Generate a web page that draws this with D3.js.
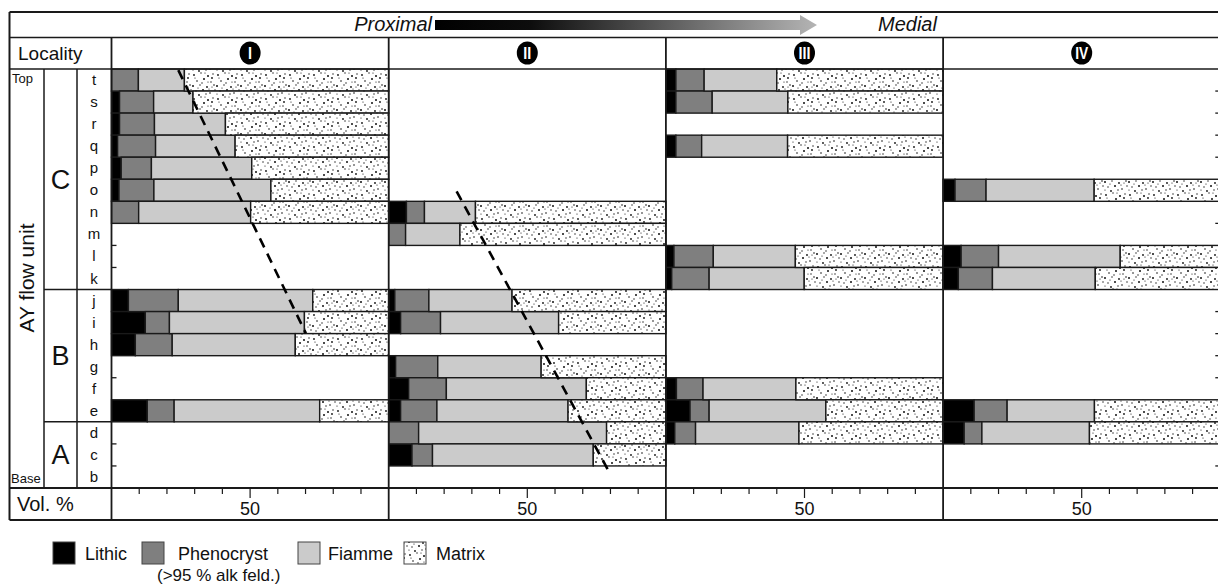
<!DOCTYPE html>
<html>
<head>
<meta charset="utf-8">
<script src="https://cdn.jsdelivr.net/npm/d3@7"></script>
<style>
  html, body { margin: 0; padding: 0; background: #fff; }
  svg { display: block; font-family: "Liberation Sans", Arial, Helvetica, sans-serif; }
</style>
</head>
<body>
<svg id="chart" width="1218" height="585"></svg>
<script>
// Sample rows of the AY flow unit, top to base
const rowLabels = ["t","s","r","q","p","o","n","m","l","k","j","i","h","g","f","e","d","c","b"];
const units = [
  { name: "C", from: "t", to: "k" },
  { name: "B", from: "j", to: "e" },
  { name: "A", from: "d", to: "b" }
];
const localities = ["I", "II", "III", "IV"];
const components = ["Lithic", "Phenocryst", "Fiamme", "Matrix"];
const volTicks = [10, 20, 30, 40, 50, 60, 70, 80, 90];
const volLabels = [50];

// Vol. % per row (null = no sample at that level); matrix is the remainder to 100 %
const lithicI    = [0, 2.9, 2.9, 2.2, 3.5, 2.7, 0, null, null, null, 6.1, 12.2, 8.6, null, null, 12.9, null, null, null];
const phenoI     = [9.7, 12.3, 12.6, 13.7, 10.9, 12.6, 9.8, null, null, null, 18.0, 8.7, 13.3, null, null, 9.7, null, null, null];
const fiammeI    = [16.6, 14.2, 25.6, 28.7, 36.2, 42.2, 40.4, null, null, null, 48.5, 48.7, 44.4, null, null, 52.5, null, null, null];

const lithicII   = [null, null, null, null, null, null, 6.4, 0, null, null, 2.2, 4.3, null, 2.5, 7.2, 4.3, 0, 8.4, null];
const phenoII    = [null, null, null, null, null, null, 6.5, 6.1, null, null, 12.3, 14.4, null, 15.2, 13.6, 13.1, 10.8, 7.4, null];
const fiammeII   = [null, null, null, null, null, null, 18.4, 19.6, null, null, 30.0, 42.6, null, 37.3, 50.5, 47.3, 67.8, 58.0, null];

const lithicIII  = [3.6, 3.6, null, 3.6, null, null, null, null, 2.9, 2.1, null, null, null, null, 3.8, 8.7, 3.2, null, null];
const phenoIII   = [10.2, 13.1, null, 9.3, null, null, null, null, 14.2, 13.5, null, null, null, null, 9.6, 6.9, 7.5, null, null];
const fiammeIII  = [26.2, 27.3, null, 31.0, null, null, null, null, 29.6, 34.3, null, null, null, null, 33.5, 42.1, 37.3, null, null];

const lithicIV   = [null, null, null, null, null, 4.3, null, null, 6.5, 5.5, null, null, null, null, null, 11.2, 7.6, null, null];
const phenoIV    = [null, null, null, null, null, 11.2, null, null, 13.5, 12.3, null, null, null, null, null, 11.9, 6.4, null, null];
const fiammeIV   = [null, null, null, null, null, 39.0, null, null, 43.9, 37.1, null, null, null, null, null, 31.5, 38.8, null, null];

// Trend of the fiamme/matrix boundary: [vol %, row, position within row]
const trendI  = [[24.1, "t", 0.05], [70.1, "i", 0.98]];
const trendII = [[24.5, "o", 0.55], [79.0, "b", 0.15]];

const series = [
  { name: "I",   lithic: lithicI,   pheno: phenoI,   fiamme: fiammeI,   trend: trendI },
  { name: "II",  lithic: lithicII,  pheno: phenoII,  fiamme: fiammeII,  trend: trendII },
  { name: "III", lithic: lithicIII, pheno: phenoIII, fiamme: fiammeIII, trend: null },
  { name: "IV",  lithic: lithicIV,  pheno: phenoIV,  fiamme: fiammeIV,  trend: null }
];

// ---------- layout ----------
const W = 1218, H = 585;
const fr = { left: 9.5, top: 12, header: 37.5, loc: 69, data: 488, bottom: 520, right: 1222 };
const col = { ay: 44, unit: 77, label: 111.5 };
const panelW = 277.2;
const ink = "#1a1a1a";
const fills = { Lithic: "#000000", Phenocryst: "#7f7f7f", Fiamme: "#cbcbcb", Matrix: "url(#stipple)" };

const svg = d3.select("#chart");
const defs = svg.append("defs");

// stipple texture for the matrix
const dots = [[2,3,0.9],[9,1,0.7],[16,4,1.0],[21,2,0.7],[5,9,0.8],[12,7,1.0],[19,10,0.7],[1,14,1.0],
              [8,13,0.7],[15,15,0.9],[22,13,0.8],[4,19,0.7],[11,18,1.0],[18,21,0.8],[23,18,0.7],
              [7,23,0.9],[14,22,0.7],[20,6,0.9],[10,11,0.7],[3,6,0.6],[17,17,0.6],[13,1,0.6],
              [6,16,0.6],[20,15,0.6],[1,22,0.6],[16,10,0.6]];
const pat = defs.append("pattern").attr("id", "stipple").attr("patternUnits", "userSpaceOnUse")
  .attr("width", 24).attr("height", 24);
pat.append("rect").attr("width", 24).attr("height", 24).attr("fill", "#fff");
pat.selectAll("circle").data(dots).join("circle")
  .attr("cx", d => d[0]).attr("cy", d => d[1]).attr("r", d => d[2]).attr("fill", "#111");

const grad = defs.append("linearGradient").attr("id", "arrowGrad")
  .attr("x1", "0%").attr("x2", "100%").attr("y1", "0%").attr("y2", "0%");
grad.append("stop").attr("offset", "0%").attr("stop-color", "#000");
grad.append("stop").attr("offset", "25%").attr("stop-color", "#0d0d0d");
grad.append("stop").attr("offset", "100%").attr("stop-color", "#b4b4b4");

const y = d3.scaleBand().domain(rowLabels).range([fr.loc, fr.data]).paddingInner(0).paddingOuter(0);
const stack = d3.stack().keys(components);

// ---------- panels ----------
series.forEach((s, i) => {
  const left = col.label + i * panelW;
  const x = d3.scaleLinear().domain([0, 100]).range([left, left + panelW]);
  const g = svg.append("g").attr("class", "panel-" + s.name);

  const rows = rowLabels.map((r, j) => ({ row: r, Lithic: s.lithic[j], Phenocryst: s.pheno[j], Fiamme: s.fiamme[j] }))
    .filter(d => d.Lithic !== null)
    .map(d => Object.assign(d, { Matrix: 100 - d.Lithic - d.Phenocryst - d.Fiamme }));

  const layers = stack(rows);
  g.selectAll("g.layer").data(layers).join("g").attr("class", "layer")
    .attr("fill", d => fills[d.key])
    .selectAll("rect").data(d => d.filter(v => v[1] - v[0] > 0.05)).join("rect")
    .attr("x", d => x(d[0])).attr("width", d => x(d[1]) - x(d[0]))
    .attr("y", d => y(d.data.row)).attr("height", y.bandwidth())
    .attr("stroke", ink).attr("stroke-width", 1.4);

  // small ticks at row boundaries inside gaps (outer panels)
  const empty = rowLabels.map((r, j) => s.lithic[j] === null);
  const gapTicks = [];
  for (let j = 1; j < rowLabels.length; j++) if (empty[j - 1] && empty[j]) gapTicks.push(rowLabels[j]);
  if (i === 0 || i === series.length - 1) {
    const x0 = i === 0 ? left : left + panelW;
    const dx = i === 0 ? 5 : -5;
    g.selectAll("line.gap").data(gapTicks).join("line").attr("class", "gap")
      .attr("x1", x0).attr("x2", x0 + dx)
      .attr("y1", d => y(d)).attr("y2", d => y(d))
      .attr("stroke", ink).attr("stroke-width", 1.3);
  }

  if (s.trend) {
    const line = d3.line().x(d => x(d[0])).y(d => y(d[1]) + d[2] * y.bandwidth());
    g.append("path").attr("d", line(s.trend)).attr("fill", "none")
      .attr("stroke", "#000").attr("stroke-width", 2.6).attr("stroke-dasharray", "10,7");
  }

  // Vol. % axis
  const axis = g.append("g");
  axis.selectAll("line").data(volTicks).join("line")
    .attr("x1", d => x(d)).attr("x2", d => x(d))
    .attr("y1", fr.data).attr("y2", d => fr.data + (d === 50 ? 10 : 6))
    .attr("stroke", ink).attr("stroke-width", 1.2);
  axis.selectAll("text").data(volLabels).join("text")
    .attr("x", d => x(d)).attr("y", 515).attr("text-anchor", "middle")
    .attr("font-size", 18).attr("fill", "#111").text(d => d);

  // locality badge
  const cx = x(50), cy = 53;
  g.append("ellipse").attr("cx", cx).attr("cy", cy).attr("rx", 10.5).attr("ry", 11.5).attr("fill", "#000");
  const tw = { I: 4, II: 8, III: 12, IV: 13 }[s.name];
  g.append("text").attr("x", cx).attr("y", cy + 5.5).attr("text-anchor", "middle")
    .attr("font-family", "'Liberation Sans Narrow', 'Liberation Sans', Arial, sans-serif")
    .attr("font-weight", "bold").attr("font-size", 16).attr("fill", "#fff")
    .attr("textLength", tw).attr("lengthAdjust", "spacingAndGlyphs")
    .text(s.name);
});

// ---------- table frame ----------
const frame = svg.append("g").attr("stroke", ink).attr("fill", "none");
const hLines = [
  [fr.left, fr.right, fr.top, 2.2], [fr.left, fr.right, fr.header, 1.6], [fr.left, fr.right, fr.loc, 1.6],
  [fr.left, fr.right, fr.data, 1.8], [fr.left, fr.right, fr.bottom, 2]
];
frame.selectAll("line.h").data(hLines).join("line").attr("class", "h")
  .attr("x1", d => d[0]).attr("x2", d => d[1]).attr("y1", d => d[2]).attr("y2", d => d[2])
  .attr("stroke-width", d => d[3]);

const vLines = [[fr.left, fr.top, fr.bottom, 2], [col.label, fr.header, fr.bottom, 1.8],
  [col.ay, fr.loc, fr.data, 1.5], [col.unit, fr.loc, fr.data, 1.5]];
for (let i = 1; i < localities.length; i++) vLines.push([col.label + i * panelW, fr.header, fr.bottom, 1.8]);
frame.selectAll("line.v").data(vLines).join("line").attr("class", "v")
  .attr("x1", d => d[0]).attr("x2", d => d[0]).attr("y1", d => d[1]).attr("y2", d => d[2])
  .attr("stroke-width", d => d[3]);

// unit separators
frame.selectAll("line.u").data(units.slice(1)).join("line").attr("class", "u")
  .attr("x1", col.ay).attr("x2", col.label)
  .attr("y1", d => y(d.from)).attr("y2", d => y(d.from)).attr("stroke-width", 1.5);

// ---------- labels ----------
const txt = svg.append("g").attr("fill", "#111");
txt.append("text").attr("x", 18).attr("y", 60).attr("font-size", 19).text("Locality");
txt.append("text").attr("x", 17).attr("y", 511).attr("font-size", 20).text("Vol. %");
txt.append("text").attr("x", 12).attr("y", 83).attr("font-size", 13).text("Top");
txt.append("text").attr("x", 11).attr("y", 483).attr("font-size", 13).text("Base");
txt.append("text").attr("transform", "translate(34,278) rotate(-90)").attr("text-anchor", "middle")
  .attr("font-size", 21).text("AY flow unit");

txt.selectAll("text.unit").data(units).join("text").attr("class", "unit")
  .attr("x", 60.5).attr("y", d => (y(d.from) + y(d.to) + y.bandwidth()) / 2 + 9.5)
  .attr("text-anchor", "middle").attr("font-size", 27).text(d => d.name);

txt.selectAll("text.row").data(rowLabels).join("text").attr("class", "row")
  .attr("x", 94).attr("y", d => y(d) + y.bandwidth() / 2 + 5)
  .attr("text-anchor", "middle").attr("font-size", 15).text(d => d);

// header: proximal -> medial
txt.append("text").attr("x", 432).attr("y", 31).attr("text-anchor", "end")
  .attr("font-size", 20).attr("font-style", "italic").text("Proximal");
txt.append("text").attr("x", 878).attr("y", 31)
  .attr("font-size", 20).attr("font-style", "italic").text("Medial");
svg.append("path")
  .attr("d", "M435,20 L800,20 L800,15 L817,25 L800,35 L800,30 L435,30 Z")
  .attr("fill", "url(#arrowGrad)");

// ---------- legend ----------
const legendItems = [
  { key: "Lithic", sx: 53, tx: 85 },
  { key: "Phenocryst", sx: 142, tx: 178, sub: "(>95 % alk feld.)", subx: 157 },
  { key: "Fiamme", sx: 298, tx: 328 },
  { key: "Matrix", sx: 404, tx: 436 }
];
const lg = svg.append("g");
lg.selectAll("rect").data(legendItems).join("rect")
  .attr("x", d => d.sx).attr("y", 542).attr("width", 22).attr("height", 22)
  .attr("fill", d => fills[d.key]).attr("stroke", "#444").attr("stroke-width", 1);
lg.selectAll("text.k").data(legendItems).join("text").attr("class", "k")
  .attr("x", d => d.tx).attr("y", 560).attr("font-size", 18).attr("fill", "#111").text(d => d.key);
lg.selectAll("text.s").data(legendItems.filter(d => d.sub)).join("text").attr("class", "s")
  .attr("x", d => d.subx).attr("y", 581).attr("font-size", 17).attr("fill", "#111").text(d => d.sub);
</script>
</body>
</html>
